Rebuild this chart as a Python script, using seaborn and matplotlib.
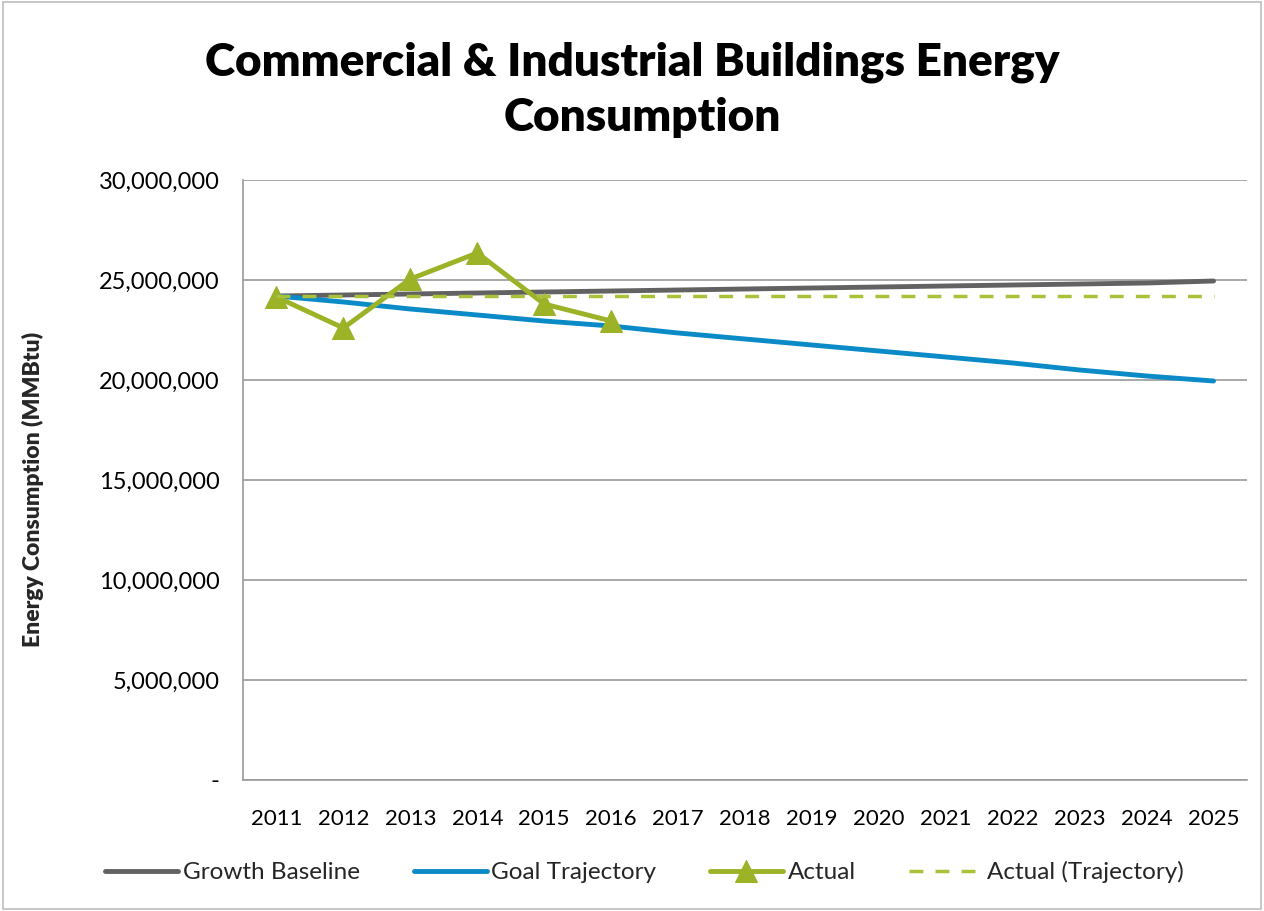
import matplotlib.pyplot as plt
import matplotlib.ticker as mticker
import numpy as np
import pandas as pd
import seaborn as sns

# --- data ---
YEARS = [2011, 2012, 2013, 2014, 2015, 2016, 2017, 2018, 2019, 2020, 2021, 2022, 2023, 2024, 2025]
GROWTH_BASELINE = [24.20, 24.25, 24.30, 24.35, 24.40, 24.45, 24.50, 24.55, 24.60, 24.65,
                   24.70, 24.75, 24.80, 24.85, 24.95]
GOAL_TRAJECTORY = [24.20, 23.90, 23.55, 23.25, 22.95, 22.70, 22.35, 22.05, 21.75, 21.45,
                   21.15, 20.85, 20.50, 20.20, 19.95]
ACTUAL = [24.15, 22.60, 25.05, 26.35, 23.80, 22.95]
ACTUAL_TRAJ = [24.20] * 15
SCALE = 1_000_000

# --- style ---
C_BASE = "#626262"
C_GOAL = "#0A8AC6"
C_ACT = "#9CB227"
C_ACT_TR = "#A8C23A"
C_GRID = "#9A9A9A"
FONT = ["Lato", "DejaVu Sans"]

sns.set_style("white")
plt.rcParams["font.family"] = FONT

idx = np.arange(len(YEARS))
df_base = pd.DataFrame({"x": idx, "y": np.array(GROWTH_BASELINE) * SCALE})
df_goal = pd.DataFrame({"x": idx, "y": np.array(GOAL_TRAJECTORY) * SCALE})
df_act = pd.DataFrame({"x": idx[:len(ACTUAL)], "y": np.array(ACTUAL) * SCALE})
df_tr = pd.DataFrame({"x": idx, "y": np.array(ACTUAL_TRAJ) * SCALE})

fig = plt.figure(figsize=(12.64, 9.11), dpi=100)
ax = fig.add_axes([243 / 1264, 1 - 780 / 911, (1247 - 243) / 1264, 600 / 911])

sns.lineplot(data=df_base, x="x", y="y", ax=ax, color=C_BASE, lw=3.5, label="Growth Baseline")
sns.lineplot(data=df_goal, x="x", y="y", ax=ax, color=C_GOAL, lw=3.5, label="Goal Trajectory")
sns.lineplot(data=df_act, x="x", y="y", ax=ax, color=C_ACT, lw=3.5, marker="^",
             markersize=16, markeredgecolor=C_ACT, label="Actual")
sns.lineplot(data=df_tr, x="x", y="y", ax=ax, color=C_ACT_TR, lw=2.5, ls=(0, (4, 3.5)),
             label="Actual (Trajectory)")

ax.set_xlim(-0.5, len(YEARS) - 0.5)
ax.set_ylim(0, 30 * SCALE)
ax.set_yticks(np.arange(0, 30 * SCALE + 1, 5 * SCALE))
ax.yaxis.set_major_formatter(mticker.FuncFormatter(lambda v, p: "-" if v == 0 else f"{v:,.0f}"))
ax.set_xticks(idx)
ax.set_xticklabels([str(y) for y in YEARS])
ax.set_xticks(np.arange(-0.5, len(YEARS), 1.0), minor=True)
ax.tick_params(axis="x", which="major", length=0, pad=21, labelsize=16, labelcolor="black")
ax.tick_params(axis="x", which="minor", length=8, color=C_GRID, width=1.2)
ax.tick_params(axis="y", which="major", length=7, color=C_GRID, width=1.2, pad=10,
               labelsize=17, labelcolor="black")

ax.grid(axis="y", color=C_GRID, lw=1.2)
ax.set_axisbelow(True)
for side in ["top", "right"]:
    ax.spines[side].set_visible(False)
for side in ["left", "bottom"]:
    ax.spines[side].set_color(C_GRID)
    ax.spines[side].set_linewidth(1.2)

ax.set_xlabel("")
ax.set_ylabel("Energy Consumption (MMBtu)", fontsize=16.5, fontweight="heavy")
ax.yaxis.set_label_coords(-0.198, 0.485)

fig.text(0.5, 1 - 62 / 911, "Commercial & Industrial Buildings Energy", ha="center", va="center",
         fontsize=33, fontweight="heavy", color="black")
fig.text(0.508, 1 - 117 / 911, "Consumption", ha="center", va="center",
         fontsize=33, fontweight="heavy", color="black")

ax.legend_.remove()
handles, labels = ax.get_legend_handles_labels()
fig.legend(handles, labels, loc="center", bbox_to_anchor=(0.51, 1 - 872 / 911), ncol=4,
           frameon=False, fontsize=17.5, handlelength=3.0, columnspacing=2.2, handletextpad=0.2)

fig.patches.append(plt.Rectangle((0.002, 0.002), 0.996, 0.996, transform=fig.transFigure,
                                 fill=False, edgecolor="#BDBDBD", lw=1.2))

fig.savefig("out.png", dpi=100)
